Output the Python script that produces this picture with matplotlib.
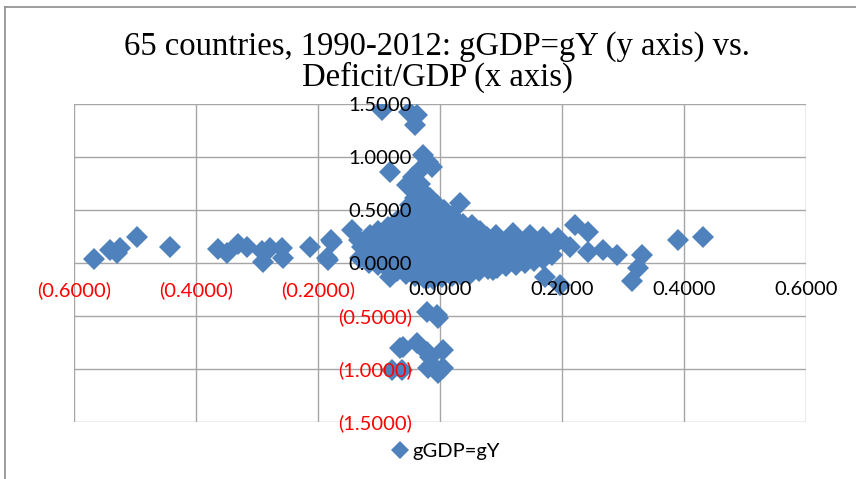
import matplotlib.pyplot as plt
from matplotlib.lines import Line2D
from matplotlib.ticker import FuncFormatter

# Deficit/GDP (x) and GDP growth (y) for the 65 countries, 1990-2012
deficit_outliers = [-0.567, -0.541, -0.525, -0.530, -0.497, -0.443, -0.364, -0.350,
                    -0.331, -0.317, -0.292, -0.290, -0.279, -0.259, -0.257, -0.213,
                    -0.177, -0.184, -0.144, -0.179, -0.185, -0.082, -0.020,
                    -0.095, -0.051, -0.038, -0.041, -0.028, -0.020, -0.013, -0.082,
                    -0.033, -0.044, -0.054, -0.033, -0.028, -0.041, -0.016, 0.033,
                    -0.049, -0.005,
                    -0.021, -0.005, -0.003, -0.061, -0.038, 0.005, -0.066, -0.021,
                    -0.016, -0.079, -0.062, -0.020, -0.005, 0.005, -0.003, -0.011,
                    0.221, 0.243, 0.213, 0.243, 0.267, 0.290, 0.331, 0.325, 0.315,
                    0.390, 0.431, 0.193, 0.172, 0.197, 0.169, 0.148, 0.120, 0.169,
                    0.087]
growth_outliers = [0.038, 0.120, 0.140, 0.090, 0.245, 0.150, 0.130, 0.090,
                   0.180, 0.150, 0.110, 0.010, 0.140, 0.140, 0.050, 0.150,
                   0.200, 0.030, 0.310, 0.220, 0.050, -0.130, -0.140,
                   1.440, 1.420, 1.400, 1.300, 1.020, 0.950, 0.910, 0.860,
                   0.880, 0.810, 0.740, 0.750, 0.670, 0.610, 0.610, 0.570,
                   0.550, 0.550,
                   -0.460, -0.490, -0.520, -0.790, -0.750, -0.820, -0.800, -0.840,
                   -0.890, -1.010, -1.010, -0.990, -1.010, -0.990, -1.040, -0.980,
                   0.360, 0.290, 0.150, 0.100, 0.120, 0.080, 0.075, -0.050, -0.170,
                   0.220, 0.245, 0.240, -0.130, -0.210, 0.245, 0.260, 0.280, 0.060,
                   -0.070]

# bulk of the observations, close to a balanced budget
deficit_core = [-0.131, -0.128, -0.133,
                -0.116, -0.113, -0.118, -0.114,
                -0.101, -0.098, -0.103, -0.099, -0.102,
                -0.086, -0.084, -0.088, -0.083, -0.087, -0.085,
                -0.071, -0.069, -0.072, -0.068, -0.073, -0.070, -0.071,
                -0.056, -0.054, -0.057, -0.053, -0.058, -0.055, -0.052, -0.056,
                -0.041, -0.039, -0.042, -0.038, -0.043, -0.040, -0.037, -0.041, -0.039,
                -0.026, -0.024, -0.027, -0.023, -0.028, -0.025, -0.022, -0.026, -0.024, -0.021,
                -0.011, -0.009, -0.012, -0.008, -0.013, -0.010, -0.007, -0.011, -0.009, -0.012,
                0.004, 0.006, 0.003, 0.007, 0.002, 0.005, 0.008, 0.004, 0.006,
                0.019, 0.021, 0.018, 0.022, 0.017, 0.020, 0.023, 0.019,
                0.034, 0.036, 0.033, 0.037, 0.032, 0.035, 0.038,
                0.049, 0.051, 0.048, 0.052, 0.047, 0.050, 0.053,
                0.064, 0.066, 0.063, 0.067, 0.062, 0.065,
                0.079, 0.081, 0.078, 0.082, 0.077,
                0.094, 0.096, 0.093, 0.097, 0.092,
                0.109, 0.111, 0.108, 0.112,
                0.124, 0.126, 0.123, 0.127,
                0.139, 0.141, 0.138, 0.142,
                0.154, 0.156, 0.153,
                0.169, 0.171, 0.168,
                0.184, 0.186]
growth_core = [0.05, 0.15, 0.22,
               0.00, 0.10, 0.18, 0.26,
               -0.02, 0.06, 0.14, 0.22, 0.30,
               -0.06, 0.03, 0.11, 0.19, 0.27, 0.34,
               -0.08, 0.00, 0.08, 0.16, 0.24, 0.32, 0.40,
               -0.10, -0.02, 0.06, 0.13, 0.21, 0.29, 0.37, 0.45,
               -0.12, -0.04, 0.04, 0.11, 0.19, 0.27, 0.35, 0.43, 0.51,
               -0.14, -0.06, 0.02, 0.09, 0.17, 0.25, 0.33, 0.41, 0.49, 0.58,
               -0.15, -0.07, 0.01, 0.08, 0.16, 0.24, 0.32, 0.40, 0.48, 0.55,
               -0.13, -0.05, 0.03, 0.10, 0.18, 0.26, 0.34, 0.42, 0.50,
               -0.12, -0.04, 0.04, 0.12, 0.20, 0.28, 0.36, 0.44,
               -0.11, -0.03, 0.05, 0.13, 0.21, 0.29, 0.37,
               -0.10, -0.02, 0.06, 0.14, 0.22, 0.30, 0.36,
               -0.08, 0.00, 0.07, 0.15, 0.23, 0.30,
               -0.06, 0.02, 0.09, 0.17, 0.25,
               -0.05, 0.03, 0.10, 0.18, 0.26,
               -0.03, 0.04, 0.12, 0.20,
               -0.02, 0.05, 0.13, 0.21,
               0.00, 0.07, 0.15, 0.22,
               0.02, 0.09, 0.17,
               0.04, 0.12, 0.19,
               0.08, 0.16]

x_ticks = [-0.6, -0.4, -0.2, 0.0, 0.2, 0.4, 0.6]
y_ticks = [-1.5, -1.0, -0.5, 0.0, 0.5, 1.0, 1.5]

blue = '#4F81BD'
grid = '#A6A6A6'
label_font = 'Lato'

fig = plt.figure(figsize=(8.56, 4.79), dpi=100)
ax = fig.add_axes([74 / 856, 57 / 479, 732 / 856, 318 / 479])

# gridlines sit under the markers, tick labels stay on top
for v in x_ticks:
    ax.axvline(v, color=grid, linewidth=1.0, zorder=1)
for v in y_ticks:
    ax.axhline(v, color=grid, linewidth=1.0, zorder=1)

xs = deficit_core + deficit_outliers
ys = growth_core + growth_outliers
ax.plot(xs, ys, linestyle='none', marker='D', markersize=11,
        color=blue, markeredgewidth=0, zorder=2)

ax.set_xlim(-0.6, 0.6)
ax.set_ylim(-1.5, 1.5)
ax.set_xticks(x_ticks)
ax.set_yticks(y_ticks)
for s in ax.spines.values():
    s.set_visible(False)
ax.spines['left'].set_position(('data', 0))
ax.spines['bottom'].set_position(('data', 0))
ax.xaxis.set_zorder(5)
ax.yaxis.set_zorder(5)


def acct(v, pos=None):
    if v < -1e-9:
        return '({:.4f})'.format(-v)
    return '{:.4f}'.format(abs(v))


ax.xaxis.set_major_formatter(FuncFormatter(acct))
ax.yaxis.set_major_formatter(FuncFormatter(acct))
ax.tick_params(axis='both', length=0, labelsize=14.5)
ax.tick_params(axis='x', pad=13)
ax.tick_params(axis='y', pad=20)
for lab, v in zip(ax.get_xticklabels(), x_ticks):
    lab.set_fontfamily(label_font)
    lab.set_color('red' if v < 0 else 'black')
for lab, v in zip(ax.get_yticklabels(), y_ticks):
    lab.set_fontfamily(label_font)
    lab.set_color('red' if v < 0 else 'black')

fig.text(437 / 856, 1 - 62 / 479,
         '65 countries, 1990-2012: gGDP=gY (y axis) vs.\nDeficit/GDP (x axis)',
         ha='center', va='center', fontsize=23.5, family='Liberation Serif',
         linespacing=0.98)

handle = Line2D([], [], linestyle='none', marker='D', markersize=9,
                color=blue, markeredgewidth=0)
fig.legend([handle], ['gGDP=gY'], loc='center', bbox_to_anchor=(445 / 856, 1 - 451 / 479),
           frameon=False, handletextpad=0.1, handlelength=1.0,
           prop={'family': label_font, 'size': 14.5})

# chart area border
fig.add_artist(Line2D([5 / 856, 1], [1 - 7 / 479, 1 - 7 / 479], color='#8C8C8C', lw=1.2))
fig.add_artist(Line2D([5 / 856, 5 / 856], [0, 1 - 7 / 479], color='#8C8C8C', lw=1.2))

fig.savefig('out.png', dpi=100)
